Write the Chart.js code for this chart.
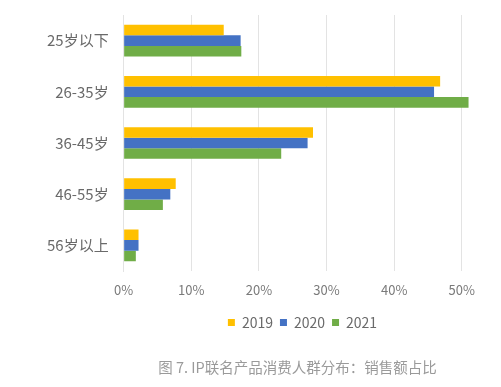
<!DOCTYPE html>
<html lang="zh">
<head>
    <meta charset="UTF-8">
    <title>IP联名产品消费人群分布</title>
    <style>
        html, body {
            margin: 0;
            padding: 0;
            background: #fff;
        }
        .wrapper {
            width: 501px;
            height: 387px;
        }
    </style>
</head>
<body>
    <div class="wrapper">
        <canvas id="chart" width="501" height="387"></canvas>
    </div>

    <script src="https://cdn.jsdelivr.net/npm/chart.js"></script>
    <script>
        // 年龄段
        const categories = ['25岁以下', '26-35岁', '36-45岁', '46-55岁', '56岁以上'];
        const years = ['2019', '2020', '2021'];
        // 销售额占比 (%)
        const share2019 = [14.8, 46.8, 28.0, 7.7, 2.2];
        const share2020 = [17.3, 45.9, 27.2, 6.9, 2.2];
        const share2021 = [17.4, 51.0, 23.3, 5.8, 1.8];
        const xTickValues = [0, 10, 20, 30, 40, 50];
        const caption = '图 7. IP联名产品消费人群分布：销售额占比';

        const colors = ['#FFC000', '#4472C4', '#70AD47'];
        const font = '"Noto Sans CJK SC", "Noto Sans", sans-serif';

        // 图例和标题不居中于整个画布, 往右挪一点
        const shiftBoxes = {
            id: 'shiftBoxes',
            afterLayout(chart) {
                const moves = [[chart.legend, 36], [chart.titleBlock, 31]];
                moves.forEach(([box, dx]) => {
                    if (!box) return;
                    box.left += dx;
                    box.right += dx;
                });
            }
        };

        const ctx = document.getElementById('chart').getContext('2d');
        new Chart(ctx, {
            type: 'bar',
            data: {
                labels: categories,
                datasets: [share2019, share2020, share2021].map((d, i) => ({
                    label: years[i],
                    data: d,
                    backgroundColor: colors[i],
                    barPercentage: 1,
                    categoryPercentage: 0.62
                }))
            },
            options: {
                indexAxis: 'y',
                responsive: false,
                animation: false,
                layout: {
                    padding: { left: 32, right: 0, top: 15, bottom: 6 }
                },
                scales: {
                    x: {
                        min: 0,
                        max: 55.8,
                        afterBuildTicks: scale => {
                            scale.ticks = xTickValues.map(v => ({ value: v }));
                        },
                        grid: { color: '#e3e3e3', drawTicks: false },
                        border: { display: false },
                        ticks: {
                            padding: 11,
                            color: '#7a7a7a',
                            font: { family: font, size: 13 },
                            callback: v => v + '%'
                        }
                    },
                    y: {
                        // 标签间距不要顶到图表区上方
                        afterFit: scale => {
                            scale.paddingTop = 0;
                            scale.paddingBottom = 0;
                        },
                        grid: { display: false, drawTicks: false },
                        border: { color: '#e3e3e3' },
                        ticks: {
                            padding: 15,
                            color: '#6a6a6a',
                            font: { family: font, size: 15 }
                        }
                    }
                },
                plugins: {
                    legend: {
                        position: 'bottom',
                        labels: {
                            boxWidth: 7,
                            boxHeight: 7,
                            padding: 7,
                            color: '#6a6a6a',
                            font: { family: font, size: 14 }
                        }
                    },
                    title: {
                        display: true,
                        position: 'bottom',
                        text: caption,
                        color: '#9a9a9a',
                        padding: { top: 19, bottom: 5 },
                        font: { family: font, size: 14.5, weight: 'normal' }
                    },
                    tooltip: { enabled: false }
                }
            },
            plugins: [shiftBoxes]
        });
    </script>
</body>
</html>
